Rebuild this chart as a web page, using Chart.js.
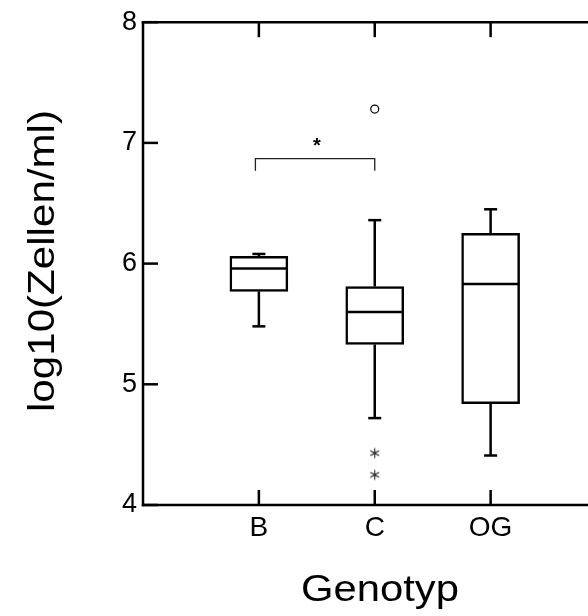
<!DOCTYPE html>
<html lang="de">
<head>
    <meta charset="UTF-8">
    <title>log10(Zellen/ml) nach Genotyp</title>
    <script src="https://cdn.jsdelivr.net/npm/chart.js"></script>
    <style>
        body {
            margin: 0;
            padding: 0;
            background: #fff;
            overflow: hidden;
        }
        #chart {
            display: block;
        }
    </style>
</head>
<body>
    <canvas id="chart" width="588" height="616"></canvas>

    <script>
        // data
        const categories = ['B', 'C', 'OG'];
        const catPos = [1, 2, 3];
        const q1 = [5.77, 5.33, 4.84];
        const median = [5.96, 5.60, 5.83];
        const q3 = [6.06, 5.81, 6.25];
        const whiskerLow = [5.48, 4.72, 4.41];
        const whiskerHigh = [6.08, 6.36, 6.45];
        const circleX = [2];
        const circleY = [7.28];
        const starX = [2, 2];
        const starY = [4.43, 4.25];
        const yTicks = [4, 5, 6, 7, 8];
        const bracketFrom = 0.97;
        const bracketTo = 2;
        const bracketY = 6.87;
        const bracketDrop = 0.1;
        const sigLabel = '*';
        const sigLabelY = 7.02;

        const FONT = '"Liberation Sans", Arial, sans-serif';
        const BOX_W = 58;
        const CAP_W = 13;
        const LW = 2.5;
        const TICK = 15;

        // 6-armed asterisk used for the extreme values
        const starImg = document.createElement('canvas');
        starImg.width = 13;
        starImg.height = 13;
        (function () {
            const c = starImg.getContext('2d');
            c.strokeStyle = '#222';
            c.lineWidth = 1.1;
            c.beginPath();
            for (let k = 0; k < 3; k++) {
                const a = Math.PI / 2 + k * Math.PI / 3;
                c.moveTo(6.5 - 5 * Math.cos(a), 6.5 - 5 * Math.sin(a));
                c.lineTo(6.5 + 5 * Math.cos(a), 6.5 + 5 * Math.sin(a));
            }
            c.stroke();
        })();

        function seg(ctx, x1, y1, x2, y2) {
            ctx.beginPath();
            ctx.moveTo(x1, y1);
            ctx.lineTo(x2, y2);
            ctx.stroke();
        }

        const boxExtras = {
            id: 'boxExtras',
            afterDatasetsDraw(chart) {
                const { ctx, scales: { x, y } } = chart;
                ctx.save();
                ctx.strokeStyle = '#000';
                ctx.lineWidth = LW;
                categories.forEach((c, i) => {
                    const cx = x.getPixelForValue(catPos[i]);
                    const h = BOX_W / 2 - 1;
                    seg(ctx, cx - h, y.getPixelForValue(median[i]), cx + h, y.getPixelForValue(median[i]));
                    const top = y.getPixelForValue(whiskerHigh[i]);
                    const bot = y.getPixelForValue(whiskerLow[i]);
                    seg(ctx, cx, y.getPixelForValue(q3[i]), cx, top);
                    seg(ctx, cx - CAP_W / 2, top, cx + CAP_W / 2, top);
                    seg(ctx, cx, y.getPixelForValue(q1[i]), cx, bot);
                    seg(ctx, cx - CAP_W / 2, bot, cx + CAP_W / 2, bot);
                });

                // significance bracket
                ctx.lineWidth = 1.3;
                ctx.strokeStyle = '#222';
                const bx1 = x.getPixelForValue(bracketFrom);
                const bx2 = x.getPixelForValue(bracketTo);
                const by = y.getPixelForValue(bracketY);
                const byd = y.getPixelForValue(bracketY - bracketDrop);
                ctx.beginPath();
                ctx.moveTo(bx1, byd);
                ctx.lineTo(bx1, by);
                ctx.lineTo(bx2, by);
                ctx.lineTo(bx2, byd);
                ctx.stroke();
                ctx.fillStyle = '#000';
                ctx.font = 'bold 20px ' + FONT;
                ctx.textAlign = 'center';
                ctx.textBaseline = 'alphabetic';
                ctx.fillText(sigLabel, x.getPixelForValue((bracketFrom + bracketTo) / 2 + 0.015),
                    y.getPixelForValue(sigLabelY) + 0.58 * 20);
                ctx.restore();
            },
            afterDraw(chart) {
                const { ctx, chartArea: a, scales: { x, y } } = chart;
                ctx.save();
                ctx.strokeStyle = '#000';
                ctx.lineWidth = LW;
                // frame: left, bottom, top
                seg(ctx, a.left, a.top - LW / 2, a.left, a.bottom + LW / 2);
                seg(ctx, a.left - LW / 2, a.bottom, 588, a.bottom);
                seg(ctx, a.left - LW / 2, a.top, 588, a.top);
                // inward ticks
                yTicks.forEach(v => {
                    const py = y.getPixelForValue(v);
                    seg(ctx, a.left, py, a.left + TICK, py);
                });
                catPos.forEach(v => {
                    const px = x.getPixelForValue(v);
                    seg(ctx, px, a.bottom, px, a.bottom - TICK);
                    seg(ctx, px, a.top, px, a.top + TICK);
                });

                // axis titles (the originals are drawn a little wide)
                ctx.fillStyle = '#000';
                ctx.font = '36px ' + FONT;
                ctx.textAlign = 'center';
                ctx.textBaseline = 'alphabetic';
                ctx.save();
                ctx.translate(380, 601);
                ctx.scale(1.16, 1);
                ctx.fillText('Genotyp', 0, 0);
                ctx.restore();
                ctx.save();
                ctx.translate(54, 261);
                ctx.rotate(-Math.PI / 2);
                ctx.scale(1.17, 1);
                ctx.fillText('log10(Zellen/ml)', 0, 0);
                ctx.restore();
                ctx.restore();
            }
        };

        const ctx = document.getElementById('chart').getContext('2d');
        new Chart(ctx, {
            type: 'bar',
            data: {
                datasets: [{
                    type: 'bar',
                    data: catPos.map((p, i) => ({ x: p, y: [q1[i], q3[i]] })),
                    backgroundColor: '#fff',
                    borderColor: '#000',
                    borderWidth: LW,
                    borderSkipped: false,
                    barThickness: BOX_W
                }, {
                    type: 'scatter',
                    data: circleX.map((v, i) => ({ x: v, y: circleY[i] })),
                    pointStyle: 'circle',
                    pointRadius: 4,
                    borderColor: '#000',
                    borderWidth: 1.2,
                    backgroundColor: '#fff'
                }, {
                    type: 'scatter',
                    data: starX.map((v, i) => ({ x: v, y: starY[i] })),
                    pointStyle: starImg,
                    pointRadius: 6
                }]
            },
            options: {
                responsive: false,
                animation: false,
                devicePixelRatio: 1,
                layout: { padding: { top: 20, right: 0, left: 0, bottom: 0 } },
                plugins: {
                    legend: { display: false },
                    tooltip: { enabled: false }
                },
                scales: {
                    x: {
                        type: 'linear',
                        offset: false,
                        min: 0,
                        max: 3.78,
                        grid: { display: false, drawTicks: false, offset: false },
                        border: { display: false },
                        afterBuildTicks: s => { s.ticks = catPos.map(v => ({ value: v })); },
                        afterFit: s => { s.height = 111; s.paddingLeft = 0; s.paddingRight = 0; },
                        ticks: {
                            padding: 6,
                            color: '#000',
                            font: { family: FONT, size: 28 },
                            callback: v => categories[catPos.indexOf(v)] || ''
                        }
                    },
                    y: {
                        min: 4,
                        max: 8,
                        grid: { display: false, drawTicks: false },
                        border: { display: false },
                        afterBuildTicks: s => { s.ticks = yTicks.map(v => ({ value: v })); },
                        afterFit: s => { s.width = 143; },
                        ticks: {
                            padding: 6,
                            color: '#000',
                            font: { family: FONT, size: 27 }
                        }
                    }
                }
            },
            plugins: [boxExtras]
        });
    </script>
</body>
</html>
